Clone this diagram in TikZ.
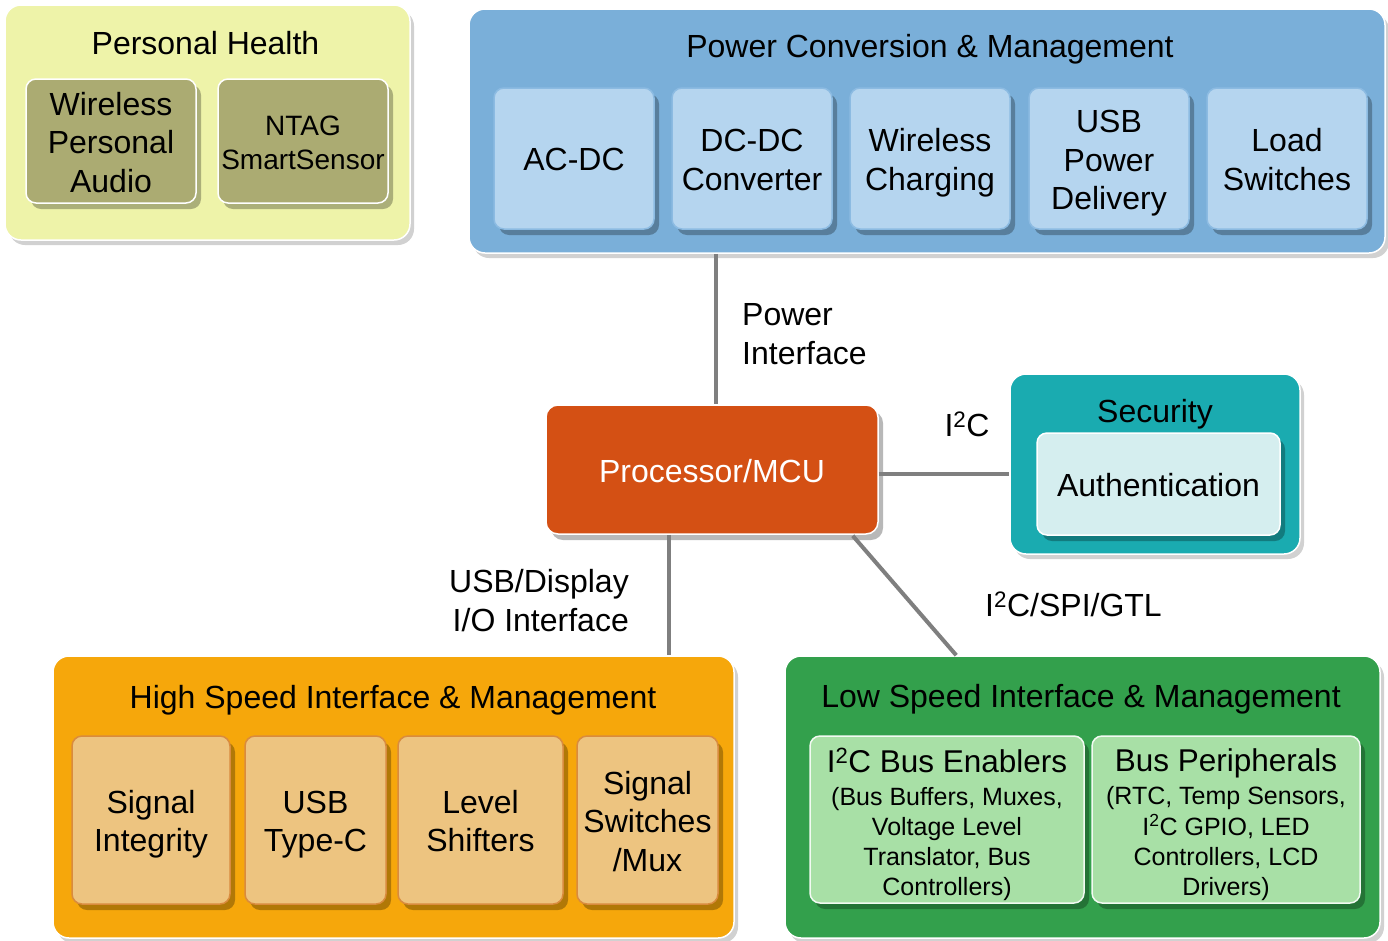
\documentclass[tikz,border=0pt]{standalone}
\usepackage{fontspec}
\setmainfont{Liberation Sans}
\usetikzlibrary{shadows,calc}
\definecolor{phout}{HTML}{EEF3A9}
\definecolor{phin}{HTML}{ABAB72}
\definecolor{pcout}{HTML}{7AAFD9}
\definecolor{pcin}{HTML}{B5D5EF}
\definecolor{pcedge}{HTML}{8CBBE2}
\definecolor{procc}{HTML}{D45014}
\definecolor{secout}{HTML}{1AABB0}
\definecolor{secin}{HTML}{D5EEEF}
\definecolor{hsout}{HTML}{F6A70B}
\definecolor{hsin}{HTML}{EDC480}
\definecolor{hsedge}{HTML}{D98B3E}
\definecolor{lsout}{HTML}{33A04C}
\definecolor{lsin}{HTML}{A8E0A6}
\definecolor{wire}{HTML}{7F7F7F}
\newcommand{\fsz}[2]{\fontsize{#1}{#2}\selectfont}
\newcommand{\ml}[2][5pt]{\raisebox{-#1}[\height][\depth]{\begin{tabular}{@{}c@{}}#2\end{tabular}}}
\tikzset{
  outerbox/.style={draw=white, line width=1.5pt, rounded corners=16pt, inner sep=0pt,
    drop shadow={shadow xshift=4pt, shadow yshift=-5pt, opacity=.18, fill=black}},
  innerbox/.style={line width=1.5pt, rounded corners=10pt, inner sep=0pt,
    font=\fsz{32}{38.5},
    drop shadow={shadow xshift=5pt, shadow yshift=-6pt, opacity=.28, fill=black}},
  title/.style={font=\fsz{32}{38}, inner sep=0pt, anchor=base},
  lbl/.style={font=\fsz{32}{39}, inner sep=0pt},
  wireline/.style={draw=wire, line width=4pt}
}
\begin{document}
\begin{tikzpicture}[x=1pt,y=-1pt]
\useasboundingbox (0,0) rectangle (1388,940);

% Personal Health
\node[outerbox, fill=phout, minimum width=405pt, minimum height=235pt] (ph) at (207.5,122.5) {};
\node[title] (phT) at (205.5,54.5) {Personal Health};
\node[innerbox, draw=white, fill=phin, minimum width=170pt, minimum height=124pt] (wpa) at (111,141) {\ml{Wireless\\Personal\\Audio}};
\node[innerbox, draw=white, fill=phin, minimum width=170pt, minimum height=124pt, font=\fsz{28}{34}] (ntag) at (303,141) {\ml[4.5pt]{NTAG\\SmartSensor}};

% Power Conversion
\node[outerbox, fill=pcout, minimum width=916pt, minimum height=244pt] (pc) at (927,131) {};
\node[title] (pcT) at (930,57.5) {Power Conversion \& Management};
\node[innerbox, draw=pcedge, fill=pcin, minimum width=160pt, minimum height=141pt] (acdc) at (574,158.5) {\ml[4pt]{AC-DC}};
\node[innerbox, draw=pcedge, fill=pcin, minimum width=160pt, minimum height=141pt] (dcdc) at (752,158.5) {\ml{DC-DC\\Converter}};
\node[innerbox, draw=pcedge, fill=pcin, minimum width=160pt, minimum height=141pt] (wc) at (930,158.5) {\ml{Wireless\\Charging}};
\node[innerbox, draw=pcedge, fill=pcin, minimum width=160pt, minimum height=141pt] (usbpd) at (1109,158.5) {\ml{USB\\Power\\Delivery}};
\node[innerbox, draw=pcedge, fill=pcin, minimum width=160pt, minimum height=141pt] (lsw) at (1287,158.5) {\ml{Load\\Switches}};

% Processor
\node[innerbox, draw=white, fill=procc, text=white, minimum width=332pt, minimum height=129pt, rounded corners=12pt] (proc) at (712,469.5) {\ml{Processor/MCU}};

% Security
\node[outerbox, fill=secout, minimum width=290pt, minimum height=180pt] (sec) at (1155,464) {};
\node[title] (secT) at (1155,422.5) {Security};
\node[innerbox, draw=white, fill=secin, minimum width=243pt, minimum height=102pt] (auth) at (1158.5,484) {\ml{Authentication}};

% High speed
\node[outerbox, fill=hsout, minimum width=681pt, minimum height=282pt] (hs) at (393.5,797) {};
\node[title] (hsT) at (393,708.5) {High Speed Interface \& Management};
\node[innerbox, draw=hsedge, fill=hsin, minimum width=158pt, minimum height=168pt] (si) at (151,820) {\ml{Signal\\Integrity}};
\node[innerbox, draw=hsedge, fill=hsin, minimum width=141pt, minimum height=168pt] (usbc) at (315.5,820) {\ml{USB\\Type-C}};
\node[innerbox, draw=hsedge, fill=hsin, minimum width=165pt, minimum height=168pt] (lvl) at (480.5,820) {\ml{Level\\Shifters}};
\node[innerbox, draw=hsedge, fill=hsin, minimum width=141pt, minimum height=168pt] (ssm) at (647.5,820) {\ml{Signal\\Switches\\/Mux}};

% Low speed
\node[outerbox, fill=lsout, minimum width=595pt, minimum height=282pt] (ls) at (1082.5,797) {};
\node[title] (lsT) at (1081,707.5) {Low Speed Interface \& Management};
\node[innerbox, draw=white!85!lsin, fill=lsin, minimum width=274pt, minimum height=167pt, font=\fsz{25}{30}] (ibe) at (947,819.5)
  {\ml[7pt]{{\fsz{31.5}{35}I\textsuperscript{2}C Bus Enablers}\\[3pt](Bus Buffers, Muxes,\\Voltage Level\\Translator, Bus\\Controllers)}};
\node[innerbox, draw=white!85!lsin, fill=lsin, minimum width=268pt, minimum height=167pt, font=\fsz{25}{30}] (bp) at (1226,819.5)
  {\ml[7pt]{{\fsz{31.5}{35}Bus Peripherals}\\[3pt](RTC, Temp Sensors,\\I\textsuperscript{2}C GPIO, LED\\Controllers, LCD\\Drivers)}};

% Connectors
\coordinate (pA) at ($(proc.north)+(4,0)$);
\draw[wireline] (pA |- pc.south) -- (pA);
\coordinate (iA) at ($(proc.east)+(0,4.5)$);
\draw[wireline] (iA) -- (iA -| sec.west);
\coordinate (uA) at ($(proc.south)+(-43,0)$);
\draw[wireline] (uA) -- (uA |- hs.north);
\draw[wireline] ($(proc.south east)+(-26,1)$) -- ($(ls.north west)+(172,0)$);

% Labels
\node[lbl, anchor=west, align=left] (lpwr) at (742,334.5) {Power\\Interface};
\node[lbl] (li2c) at (967,424) {I\textsuperscript{2}C};
\node[lbl, anchor=east, align=right] (lusb) at (629,600.5) {USB/Display\\I/O Interface};
\node[lbl, anchor=west] (lspi) at (985,604) {I\textsuperscript{2}C/SPI/GTL};
\end{tikzpicture}
\end{document}
